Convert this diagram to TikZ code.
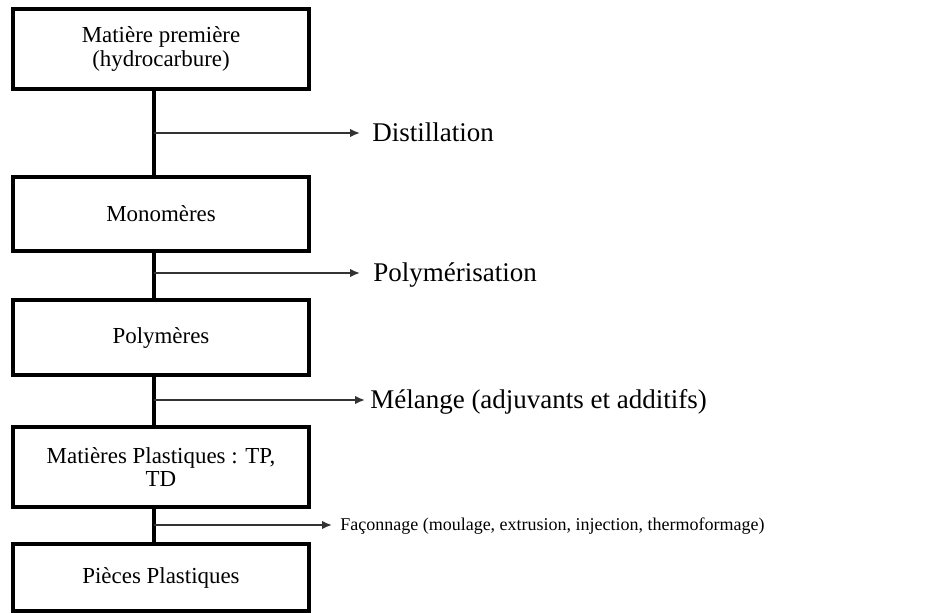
\documentclass[tikz,border=0pt]{standalone}
\usepackage{fontspec}
\setmainfont{Liberation Serif}
\usetikzlibrary{arrows.meta}

\begin{document}
\begin{tikzpicture}[x=0.025cm,y=-0.025cm,
boite/.style={draw,line width=2.2pt,rectangle,minimum width=7.4cm,align=center,font=\fontsize{16.3}{16.4}\selectfont},
etape/.style={anchor=west,inner sep=0pt,text height=12.7pt,text depth=0pt,font=\fontsize{19.2}{20}\selectfont},
fleche/.style={line width=1.3pt,black!80,-{Latex[length=7pt,width=6pt]}}]
\useasboundingbox (0,0) rectangle (926,612);
\node[boite,minimum height=2cm](mp) at (161,49){Matière première\\(hydrocarbure)};
\node[boite,minimum height=1.85cm](mono) at (161,214){Monomères};
\node[boite,minimum height=1.875cm](poly) at (161,337.5){Polymères};
\node[boite,minimum height=2cm](mat) at (161,467){Matières Plastiques : TP,\\TD};
\node[boite,minimum height=1.675cm](pieces) at (161,577.5){Pièces Plastiques};
\coordinate (axe) at (154,0);
\draw[line width=2.2pt](mp.south -| axe)--(mono.north -| axe)
(mono.south -| axe)--(poly.north -| axe)
(poly.south -| axe)--(mat.north -| axe)
(mat.south -| axe)--(pieces.north -| axe);
%%
\node[etape](dist) at (372,133){Distillation};
\node[etape](polym) at (373,273){Polymérisation};
\node[etape](melange) at (370,400){Mélange (adjuvants et additifs)};
\node[etape,text height=8.4pt,font=\fontsize{12.8}{14}\selectfont](faconnage) at (340,525){Façonnage (moulage, extrusion, injection, thermoformage)};
\draw[fleche,shorten >=0.3cm](axe |- dist.west)--(dist.west);
\draw[fleche,shorten >=0.325cm](axe |- polym.west)--(polym.west);
\draw[fleche,shorten >=0.125cm](axe |- melange.west)--(melange.west);
\draw[fleche,shorten >=0.2cm](axe |- faconnage.west)--(faconnage.west);
\end{tikzpicture}
\end{document}
